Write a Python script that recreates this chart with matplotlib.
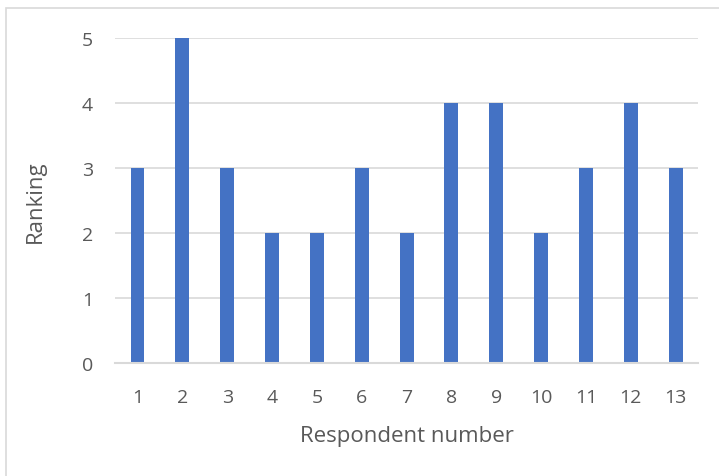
import matplotlib.pyplot as plt
from matplotlib.patches import Rectangle
import numpy as np

respondents = [str(i) for i in range(1, 14)]
rankings = [3, 5, 3, 2, 2, 3, 2, 4, 4, 2, 3, 4, 3]

plt.rcParams['font.family'] = ['Open Sans', 'DejaVu Sans']
text_color = "#595959"
grid_color = "#D9D9D9"

fig = plt.figure(figsize=(7.19, 4.77), dpi=100)
ax = fig.add_axes([0.160, 0.237, 0.811, 0.681])

# thin chart-area border (clipped at right and bottom)
fig.patches.append(Rectangle((6 / 719, -0.1), 1.2, 1 - 9 / 477 + 0.1,
                             transform=fig.transFigure, fill=False,
                             edgecolor=grid_color, linewidth=1.2))

x = np.arange(len(respondents))
ax.bar(x, rankings, width=0.31, color="#4472C4", zorder=3)

ax.set_xlim(-0.5, len(respondents) - 0.5)
ax.set_ylim(0, 5)
ax.set_yticks(range(0, 6))
ax.set_xticks(x)
ax.set_xticklabels(respondents)
ax.yaxis.grid(True, color=grid_color, linewidth=1.2, zorder=0)

for side in ("top", "right", "left"):
    ax.spines[side].set_visible(False)
ax.spines["bottom"].set_color(grid_color)
ax.spines["bottom"].set_linewidth(1.5)
ax.spines["bottom"].set_zorder(4)

ax.tick_params(axis="both", length=0, labelsize=14, colors=text_color)
ax.tick_params(axis="y", pad=16)
ax.tick_params(axis="x", pad=18)

ax.set_xlabel("Respondent number", fontsize=16, color=text_color, labelpad=14)
ax.set_ylabel("Ranking", fontsize=16, color=text_color, labelpad=26)

fig.savefig("out.png", dpi=100)
